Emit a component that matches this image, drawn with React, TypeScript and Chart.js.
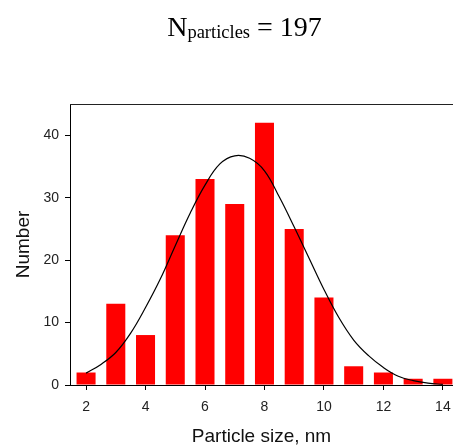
import React, { useEffect, useRef } from "react";
import { Chart, registerables } from "chart.js";

Chart.register(...registerables);

// Histogram data
const SIZES = [2, 3, 4, 5, 6, 7, 8, 9, 10, 11, 12, 13, 14];
const COUNTS = [2, 13, 8, 24, 33, 29, 42, 25, 14, 3, 2, 1, 1];

// Fitted curve
const FIT_X = [2, 2.5, 3, 3.5, 4, 4.5, 5, 5.5, 6, 6.5, 7, 7.5, 8, 8.5, 9, 9.5, 10, 10.5, 11, 11.5, 12, 12.5, 13, 13.5, 14];
const FIT_Y = [1.9, 3.3, 5.2, 8.3, 12.4, 17.0, 22.3, 27.5, 32.0, 35.4, 36.7, 36.3, 34.3, 30.1, 25.3, 20.3, 15.3, 10.8, 7.2, 4.7, 2.8, 1.4, 0.7, 0.3, 0.1];

const X_TICKS = [2, 4, 6, 8, 10, 12, 14];
const Y_TICKS = [0, 10, 20, 30, 40];

const TITLE_MAIN = "N";
const TITLE_SUB = "particles";
const TITLE_REST = " = 197";

const SANS = "'Liberation Sans', Arial, sans-serif";
const SERIF = "'Liberation Serif', 'Times New Roman', serif";

const titlePlugin = {
  id: "subTitle",
  afterDraw(chart: any) {
    const ctx = chart.ctx;
    ctx.save();
    ctx.fillStyle = "#000";
    ctx.textBaseline = "alphabetic";
    ctx.textAlign = "left";
    const bigFont = `28px ${SERIF}`;
    const smallFont = `18.5px ${SERIF}`;
    ctx.font = bigFont;
    const wN = ctx.measureText(TITLE_MAIN).width;
    const wR = ctx.measureText(TITLE_REST).width;
    ctx.font = smallFont;
    const wS = ctx.measureText(TITLE_SUB).width;
    const total = wN + wS + wR;
    let x = 244.5 - total / 2;
    const base = 36;
    ctx.font = bigFont;
    ctx.fillText(TITLE_MAIN, x, base);
    x += wN;
    ctx.font = smallFont;
    ctx.fillText(TITLE_SUB, x, base + 1.5);
    x += wS;
    ctx.font = bigFont;
    ctx.fillText(TITLE_REST, x, base);
    // top frame line
    const a = chart.chartArea;
    ctx.strokeStyle = "#222";
    ctx.lineWidth = 1.2;
    ctx.beginPath();
    ctx.moveTo(a.left, a.top + 0.5);
    ctx.lineTo(chart.width, a.top + 0.5);
    ctx.stroke();
    ctx.restore();
  },
};

export default function App() {
  const ref = useRef<HTMLCanvasElement>(null);

  useEffect(() => {
    if (!ref.current) return;
    const chart = new Chart(ref.current, {
      type: "bar",
      data: {
        datasets: [
          {
            type: "line",
            data: FIT_X.map((x, i) => ({ x, y: FIT_Y[i] })),
            borderColor: "#000",
            borderWidth: 1.2,
            pointRadius: 0,
            tension: 0.4,
            fill: false,
            order: 0,
          } as any,
          {
            type: "bar",
            data: SIZES.map((x, i) => ({ x, y: COUNTS[i] })),
            backgroundColor: "#ff0000",
            borderWidth: 0,
            barPercentage: 0.64,
            categoryPercentage: 1,
            order: 1,
          } as any,
        ],
      },
      options: {
        animation: false,
        responsive: false,
        devicePixelRatio: 1,
        layout: { padding: { top: 104, left: 0, right: 0, bottom: 0 } },
        plugins: {
          legend: { display: false },
          title: { display: false },
          tooltip: { enabled: false },
        },
        scales: {
          x: {
            type: "linear",
            min: 1.46,
            max: 14.34,
            offset: false,
            grid: {
              offset: false,
              drawOnChartArea: false,
              drawTicks: true,
              tickLength: 5,
              color: "#000",
            },
            border: { display: true, color: "#000", width: 1 },
            ticks: {
              padding: 9,
              color: "#222",
              font: { family: SANS, size: 14 },
              maxRotation: 0,
              autoSkip: false,
            },
            title: {
              display: true,
              text: "Particle size, nm",
              color: "#111",
              font: { family: SANS, size: 19, lineHeight: 1 },
              padding: 0,
            },
            afterBuildTicks: (s: any) => {
              s.ticks = X_TICKS.map((v) => ({ value: v }));
            },
            afterFit: (s: any) => {
              s.height = 61;
              s.paddingLeft = 0;
              s.paddingRight = 0;
            },
          },
          y: {
            type: "linear",
            min: 0,
            max: 45,
            grid: {
              drawOnChartArea: false,
              drawTicks: true,
              tickLength: 5,
              color: "#000",
            },
            border: { display: true, color: "#000", width: 1 },
            ticks: {
              padding: 6,
              color: "#222",
              font: { family: SANS, size: 14 },
            },
            title: {
              display: true,
              text: "Number",
              color: "#111",
              font: { family: SANS, size: 19, lineHeight: 1 },
              padding: { top: 14, bottom: 0 },
            },
            afterBuildTicks: (s: any) => {
              s.ticks = Y_TICKS.map((v) => ({ value: v }));
            },
            afterFit: (s: any) => {
              s.width = 70;
              s.paddingTop = 0;
              s.paddingBottom = 0;
            },
          },
        },
      } as any,
      plugins: [titlePlugin],
    });
    return () => chart.destroy();
  }, []);

  return (
    <div style={{ position: "absolute", left: 0, top: 0, width: 453, height: 446, background: "#fff" }}>
      <canvas ref={ref} width={453} height={446} style={{ display: "block" }} />
    </div>
  );
}
